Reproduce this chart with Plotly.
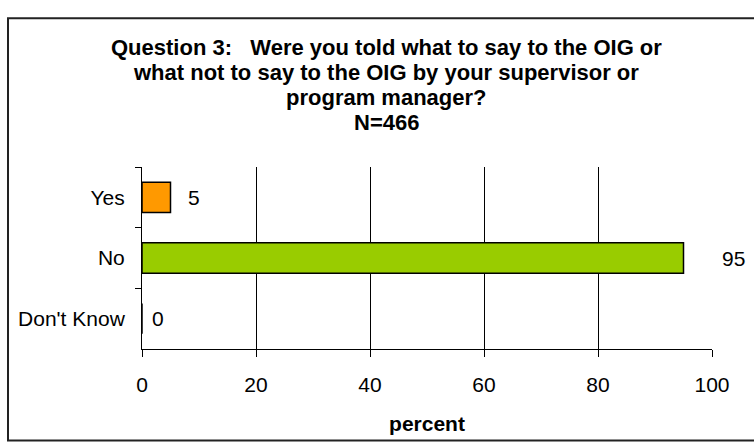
import plotly.graph_objects as go

categories = ["Yes", "No", "Don't Know"]
values = [5, 95, 0]
bar_colors = ["#FF9900", "#99CC00", "#99CC00"]
label_shift = [15, 36, 8]
title_lines = [
    "Question 3:&nbsp;&nbsp; Were you told what to say to the OIG or",
    "what not to say to the OIG by your supervisor or",
    "program manager?",
    "N=466",
]
x_title = "percent"

FONT = "Liberation Sans, Arial, sans-serif"
W, H = 754, 444
L, R, T, B = 142, 42, 167, 86
pw = W - L - R
ph = H - T - B
TITLE_TOP, TITLE_STEP = 42, 26


def px_x(p):
    return (p - L) / pw


def px_y(p):
    return (H - B - p) / ph


fig = go.Figure()
fig.add_trace(go.Bar(
    x=values, y=categories, orientation="h",
    marker=dict(color=bar_colors, line=dict(color="#000000", width=1.5)),
    hoverinfo="skip",
))

for c, v, s in zip(categories, values, label_shift):
    fig.add_annotation(x=v, y=c, text=str(v), showarrow=False, xanchor="left",
                       xshift=s, font=dict(family=FONT, size=21, color="#000"))

for i, line in enumerate(title_lines):
    fig.add_annotation(xref="paper", yref="paper", x=px_x(386),
                       y=px_y(TITLE_TOP + i * TITLE_STEP),
                       xanchor="center", yanchor="middle", showarrow=False,
                       text="<b>" + line + "</b>",
                       font=dict(family=FONT, size=22, color="#000"))

fig.add_shape(type="rect", xref="paper", yref="paper",
              x0=px_x(8), x1=px_x(W + 10), y0=px_y(H + 10), y1=px_y(11),
              line=dict(color="#222222", width=2), fillcolor="rgba(0,0,0,0)", layer="below")

fig.update_layout(
    width=W, height=H,
    margin=dict(l=L, r=R, t=T, b=B),
    paper_bgcolor="white", plot_bgcolor="white",
    bargap=0.5, showlegend=False,
    xaxis=dict(range=[0, 100], dtick=20, tick0=0, showgrid=True, gridcolor="#000000",
               gridwidth=1, ticks="outside", ticklen=7, tickcolor="#000",
               showline=True, linecolor="#000", linewidth=1, zeroline=False,
               ticklabelstandoff=10,
               tickfont=dict(family=FONT, size=21, color="#000"),
               title=dict(text=x_title, standoff=21,
                          font=dict(family=FONT, size=21, color="#000", weight="bold"))),
    yaxis=dict(autorange="reversed", showgrid=False, ticks="outside", ticklen=6,
               tickcolor="#000", tickson="boundaries", showline=True, linecolor="#000",
               linewidth=1, ticklabelstandoff=12,
               tickfont=dict(family=FONT, size=21, color="#000")),
)

fig.write_html("out.html", config={"displayModeBar": False},
               post_script="document.body.style.margin='0';")
